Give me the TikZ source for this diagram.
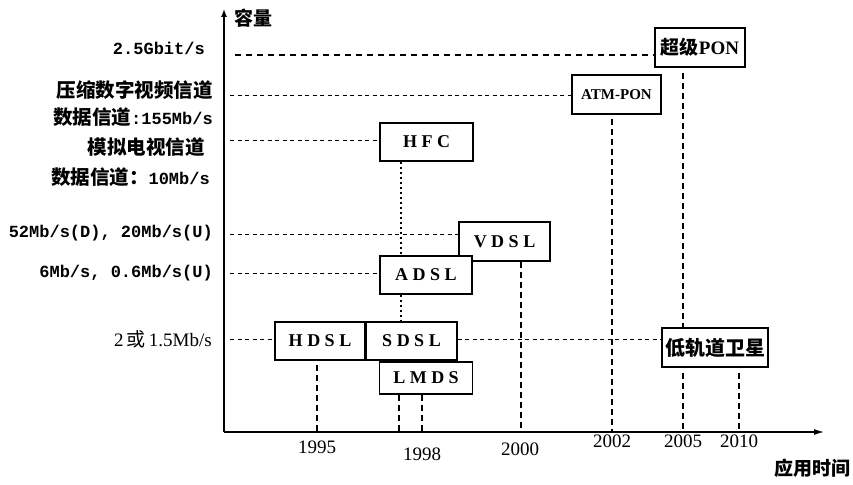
\documentclass[tikz,border=0pt]{standalone}
\usepackage{fontspec}
\setmainfont{Liberation Serif}
\setmonofont{Liberation Mono}
\newfontfamily\cjk{Noto Sans CJK SC}
\usetikzlibrary{arrows.meta}
\tikzset{
  box/.style={draw, line width=1.2pt, fill=white, inner sep=0pt, font=\fontsize{18}{18}\selectfont\bfseries},
  hdash/.style={line width=0.9pt, dash pattern=on 4pt off 3.5pt},
  vdash/.style={line width=1.2pt, dash pattern=on 6pt off 4pt},
  vdot/.style={line width=2pt, dash pattern=on 2.5pt off 2.5pt},
  rate/.style={anchor=east, inner sep=0pt, font=\fontsize{17}{17}\selectfont\ttfamily\bfseries},
  zh/.style={anchor=east, inner sep=0pt, font=\fontsize{19.5}{19.5}\selectfont\cjk\bfseries},
  year/.style={inner sep=0pt, font=\fontsize{19}{19}\selectfont},
  axis/.style={line width=1.3pt}
}
\begin{document}
\begin{tikzpicture}[x=1pt,y=-1pt]
\useasboundingbox (0,0) rectangle (853,484);
% axes
\coordinate (O) at (224,432);
\coordinate (ytop) at (224,9);
\coordinate (xend) at (824,432);
\draw[axis,-{Latex[length=8pt,width=6pt]}] (O) -- (ytop);
\draw[axis,-{Latex[length=10pt,width=6pt]}] (O) -- (xend);
\node[inner sep=0pt, anchor=west, font=\fontsize{19}{19}\selectfont\cjk\bfseries] (ylab) at (234,18) {容量};
\node[inner sep=0pt, anchor=east, font=\fontsize{19}{19}\selectfont\cjk\bfseries] (xlab) at (851,468) {应用时间};

% left labels
\node[rate] (l1) at (205,48) {2.5Gbit/s};
\node[zh] (l2) at (213,90) {压缩数字视频信道};
\node[zh] (l3) at (213,117) {数据信道\fontsize{17}{17}\selectfont\ttfamily :155Mb/s};
\node[zh] (l4) at (205,147) {模拟电视信道};
\node[zh] (l5) at (210,177) {数据信道：\fontsize{17}{17}\selectfont\ttfamily 10Mb/s};
\node[rate] (l6) at (213,233) {52Mb/s(D), 20Mb/s(U)};
\node[rate] (l7) at (213,273) {6Mb/s, 0.6Mb/s(U)};
\node[anchor=east, inner sep=0pt, font=\fontsize{19}{19}\selectfont] (l8) at (212,339) {2\,{\cjk 或}\,1.5Mb/s};

% boxes
\node[box, minimum width=90pt, minimum height=39pt, font=\fontsize{19}{19}\selectfont\bfseries] (spon) at (700,47.5) {{\cjk 超级}PON};
\node[box, minimum width=89pt, minimum height=39pt, font=\fontsize{15}{15}\selectfont\bfseries] (atm) at (616.5,94.5) {ATM-PON};
\node[box, minimum width=93pt, minimum height=38pt] (hfc) at (426.5,142) {H F C};
\node[box, minimum width=91pt, minimum height=39pt] (vdsl) at (504.5,241.5) {V D S L};
\node[box, minimum width=92pt, minimum height=38pt] (adsl) at (426,275) {\raisebox{-5pt}{A D S L}};
\node[box, minimum width=90pt, minimum height=38pt] (hdsl) at (320,341) {H D S L};
\node[box, minimum width=91pt, minimum height=38pt] (sdsl) at (411.5,341) {S D S L\hspace{12pt}};
\node[box, minimum width=93pt, minimum height=32pt] (lmds) at (426,378) {L M D S\hspace{12pt}};
\node[box, minimum width=106pt, minimum height=39pt, font=\fontsize{20}{20}\selectfont\cjk\bfseries] (leo) at (715,347.5) {低轨道卫星};

% horizontal connectors
\coordinate (h1) at (235,55);
\coordinate (h2) at (230,95);
\coordinate (h3) at (230,140);
\coordinate (h4) at (230,234);
\coordinate (h5) at (230,273);
\coordinate (h6) at (230,339);
\draw[hdash, dash pattern=on 6pt off 5pt, line width=1.1pt] (h1) -- (h1 -| spon.west);
\draw[hdash] (h2) -- (h2 -| atm.west);
\draw[hdash] (h3) -- (h3 -| hfc.west);
\draw[hdash] (h4) -- (h4 -| vdsl.west);
\draw[hdash] (h5) -- (h5 -| adsl.west);
\draw[hdash] (h6) -- (h6 -| hdsl.west);
\draw[hdash] (sdsl.east |- h6) -- (h6 -| leo.west);

% year ticks
\coordinate (t1995) at (317,432);
\coordinate (t97) at (399,432);
\coordinate (t1998) at (422,432);
\coordinate (t2000) at (521,432);
\coordinate (t2002) at (612,432);
\coordinate (t2005) at (683,432);
\coordinate (t2010) at (739,432);
\coordinate (thfc) at (401,432);

% vertical connectors
\draw[vdot] (thfc |- hfc.south) -- (thfc |- adsl.north);
\draw[vdot] (thfc |- adsl.south) -- (thfc |- sdsl.north);
\draw[vdash] (t1995 |- hdsl.south) ++(0,4) -- (t1995);
\draw[vdash] (t97 |- lmds.south) -- (t97);
\draw[vdash] (t1998 |- lmds.south) -- (t1998);
\draw[vdash] (t2000 |- vdsl.south) -- (t2000);
\draw[vdash] (t2002 |- atm.south) ++(0,4) -- (t2002);
\draw[vdash] (t2005 |- spon.south) ++(0,5) -- (t2005 |- leo.north);
\draw[vdash] (t2005 |- leo.south) ++(0,5) -- (t2005);
\draw[vdash] (t2010 |- leo.south) ++(0,5) -- (t2010);

% year labels
\node[year] (y1995) at (317,447) {1995};
\node[year] (y1998) at (422,454) {1998};
\node[year] (y2000) at (520,449) {2000};
\node[year] (y2002) at (612,441) {2002};
\node[year] (y2005) at (683,441) {2005};
\node[year] (y2010) at (739,441) {2010};
\end{tikzpicture}
\end{document}
